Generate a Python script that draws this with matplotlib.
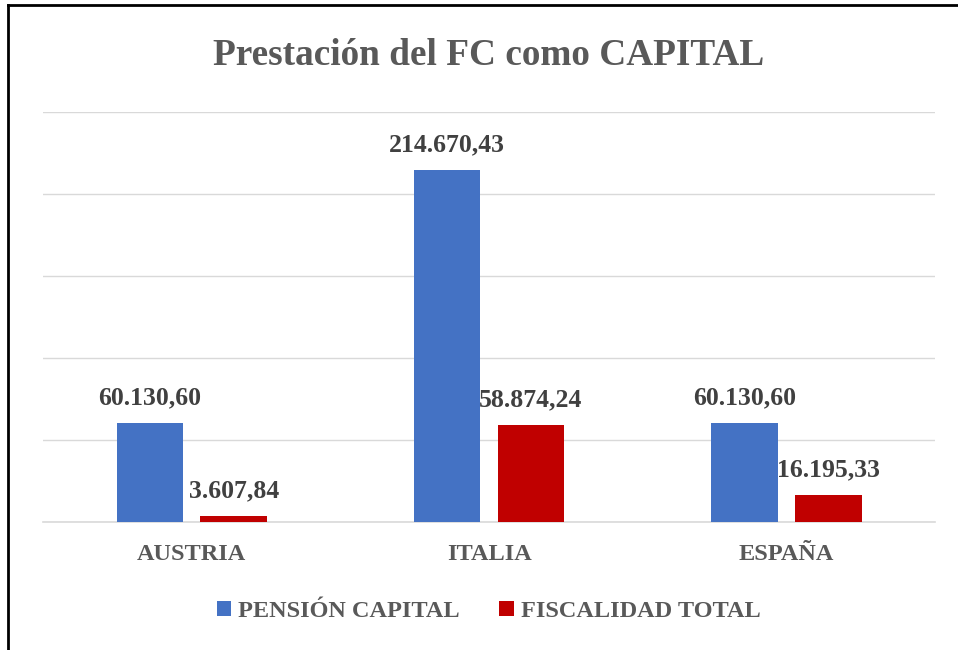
import matplotlib
matplotlib.use('Agg')
import matplotlib.pyplot as plt
from matplotlib.lines import Line2D
import numpy as np

paises = ['AUSTRIA', 'ITALIA', 'ESPAÑA']
pension_capital = [60130.60, 214670.43, 60130.60]
fiscalidad_total = [3607.84, 58874.24, 16195.33]
series_nombres = ['PENSIÓN CAPITAL', 'FISCALIDAD TOTAL']
titulo = 'Prestación del FC como CAPITAL'

azul = '#4472C4'
rojo = '#C00000'
gris = '#595959'

plt.rcParams['font.family'] = ['Liberation Serif', 'DejaVu Serif']


def formato_es(v):
    # 60130.6 -> 60.130,60
    s = f'{v:,.2f}'
    return s.replace(',', 'X').replace('.', ',').replace('X', '.')


fig = plt.figure(figsize=(9.58, 6.5), dpi=100)
ax = fig.add_axes([0.045, 0.197, 0.931, 0.631])

x = np.arange(len(paises))
ancho = 0.224
desp = 0.141

b1 = ax.bar(x - desp, pension_capital, ancho, color=azul, label=series_nombres[0], zorder=3)
b2 = ax.bar(x + desp, fiscalidad_total, ancho, color=rojo, label=series_nombres[1], zorder=3)

for barras in (b1, b2):
    for b in barras:
        ax.annotate(formato_es(b.get_height()), xy=(b.get_x() + b.get_width() / 2, b.get_height()),
                    xytext=(0, 13.5), textcoords='offset points', ha='center', va='baseline',
                    fontsize=18.5, fontweight='bold', color='#404040')

ax.set_xlim(-0.5, 2.5)
ax.set_ylim(0, 250000)
ax.set_yticks(np.arange(0, 250001, 50000))
ax.yaxis.grid(True, color='#D9D9D9', linewidth=1.0, zorder=0)
ax.set_yticklabels([])
ax.tick_params(axis='y', length=0)
ax.set_xticks(x)
ax.set_xticklabels(paises, fontsize=17.5, fontweight='bold', color=gris)
ax.tick_params(axis='x', length=0, pad=16)
for lado in ['top', 'right', 'left']:
    ax.spines[lado].set_visible(False)
ax.spines['bottom'].set_color('#D9D9D9')
ax.spines['bottom'].set_linewidth(1.2)

fig.text(0.51, 0.914, titulo, ha='center', va='center', fontsize=26.8, fontweight='bold', color=gris)

leg = fig.legend(loc='center', bbox_to_anchor=(0.51, 0.059), ncol=2, frameon=False,
                 handlelength=0.6, handleheight=0.6, handletextpad=0.3, columnspacing=1.6,
                 prop={'size': 17.5, 'weight': 'bold'})
for t in leg.get_texts():
    t.set_color(gris)

# marco exterior (solo se ve arriba e izquierda)
fig.add_artist(Line2D([7.5 / 958, 7.5 / 958], [0, 1 - 5 / 650], color='black', linewidth=2, transform=fig.transFigure))
fig.add_artist(Line2D([7.5 / 958, 1], [1 - 5 / 650, 1 - 5 / 650], color='black', linewidth=2, transform=fig.transFigure))

plt.savefig('out.png', dpi=100)
